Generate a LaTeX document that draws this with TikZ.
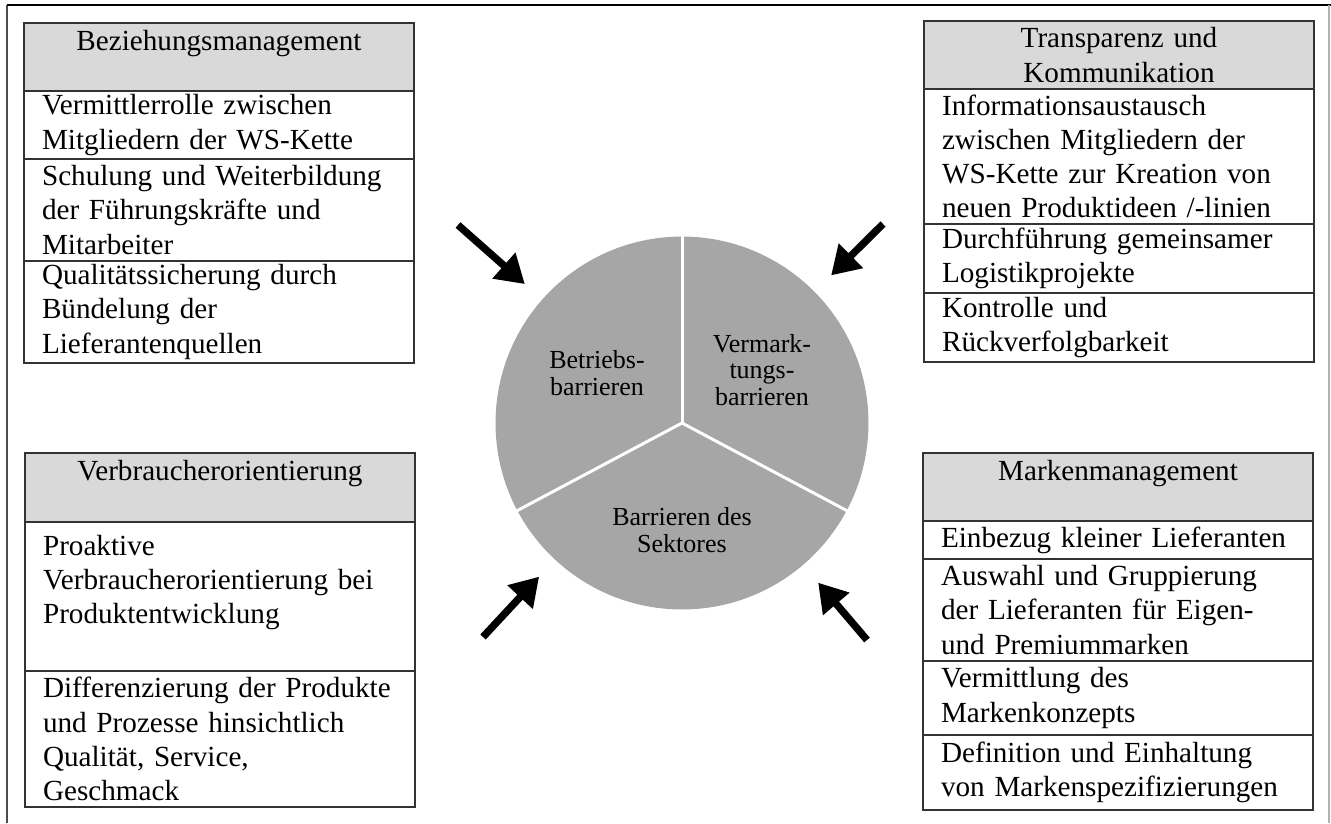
\documentclass[tikz,border=0pt]{standalone}
\usepackage{fontspec}
\setmainfont{Liberation Serif}
\usetikzlibrary{positioning,arrows.meta}

\newcommand{\boxfont}{\fontsize{16.6}{19.4}\selectfont\hyphenpenalty=10000\exhyphenpenalty=10000}
\newcommand{\kreisfont}{\fontsize{14.8}{15.2}\selectfont}

\begin{document}
\begin{tikzpicture}[x=0.02cm, y=-0.02cm,
        kopf/.style={draw=black!80, line width=0.9pt, fill=gray!30, outer sep=0pt,
                inner xsep=0.3cm, inner ysep=0pt, text width=7.2cm, align=center,
                font=\boxfont, anchor=north},
        zeile/.style={draw=black!80, line width=0.9pt, outer sep=0pt,
                inner xsep=0.36cm, inner ysep=0pt, text width=7.08cm, align=left,
                font=\boxfont},
        pfeil/.style={line width=4.2pt, -{Triangle[length=0.56cm,width=0.66cm]},
                shorten >=0.46cm}
    ]
        \useasboundingbox (0,0) rectangle (1331,823);

        % Rahmen
        \draw[black!70, line width=0.8pt] (7,823) -- (7,5);
        \draw[black, line width=1pt] (7,5) -- (1331,5);
        \draw[black!30, line width=0.6pt] (1329,5) -- (1329,823);

        % Kreis
        \node[circle, fill=gray!70, minimum size=7.46cm, inner sep=0pt] (kreis) at (682,423) {};
        \foreach \w in {90,208,332} {
                \draw[white, line width=1.7pt] (kreis.center) -- (kreis.\w);
            }
        \node[font=\kreisfont, align=center] (betrieb) at (597,373) {Betriebs-\\barrieren};
        \node[font=\kreisfont, align=center] (vermarkt) at (762,370) {Vermark-\\tungs-\\barrieren};
        \node[font=\kreisfont, align=center] (sektor) at (682,530) {Barrieren des\\Sektores};

        % Beziehungsmanagement
        \node[kopf, minimum height=1.36cm] (bezK) at (219,23) {Beziehungsmanagement\\\mbox{}};
        \node[zeile, minimum height=1.36cm, below=0pt of bezK] (bez1)
        {Vermittlerrolle zwischen\\Mitgliedern der WS-Kette};
        \node[zeile, minimum height=2.04cm, below=0pt of bez1] (bez2)
        {Schulung und Weiterbildung\\der Führungskräfte und\\Mitarbeiter};
        \node[zeile, minimum height=2.04cm, below=0pt of bez2] (bez3)
        {Qualitätssicherung durch\\Bündelung der\\Lieferantenquellen};

        % Transparenz und Kommunikation
        \node[kopf, minimum height=1.36cm] (traK) at (1119,21) {Transparenz und\\Kommunikation};
        \node[zeile, minimum height=2.70cm, below=0pt of traK] (tra1)
        {Informationsaustausch\\zwischen Mitgliedern der\\WS-Kette zur Kreation von\\neuen Produktideen /-linien};
        \node[zeile, minimum height=1.38cm, below=0pt of tra1] (tra2)
        {Durchführung gemeinsamer\\Logistikprojekte};
        \node[zeile, minimum height=1.38cm, below=0pt of tra2] (tra3)
        {Kontrolle und\\Rückverfolgbarkeit};

        % Verbraucherorientierung
        \node[kopf, minimum height=1.38cm] (verK) at (220,453) {Verbraucherorientierung\\\mbox{}};
        \node[zeile, minimum height=2.98cm, below=0pt of verK] (ver1)
        {Proaktive\\Verbraucherorientierung bei\\Produktentwicklung\\\mbox{}};
        \node[zeile, minimum height=2.72cm, below=0pt of ver1] (ver2)
        {Differenzierung der Produkte\\und Prozesse hinsichtlich\\Qualität, Service,\\Geschmack};

        % Markenmanagement
        \node[kopf, minimum height=1.36cm] (marK) at (1118,453) {Markenmanagement\\\mbox{}};
        \node[zeile, minimum height=0.76cm, below=0pt of marK] (mar1)
        {Einbezug kleiner Lieferanten};
        \node[zeile, minimum height=2.04cm, below=0pt of mar1] (mar2)
        {Auswahl und Gruppierung\\der Lieferanten für Eigen-\\und Premiummarken};
        \node[zeile, minimum height=1.48cm, below=0pt of mar2] (mar3)
        {Vermittlung des\\Markenkonzepts};
        \node[zeile, minimum height=1.50cm, below=0pt of mar3] (mar4)
        {Definition und Einhaltung\\von Markenspezifizierungen};

        % Pfeile
        \coordinate (pfA) at (458,225);
        \coordinate (pfB) at (883,224);
        \coordinate (pfC) at (483,637);
        \coordinate (pfD) at (867,640);
        \foreach \p in {pfA,pfB,pfC,pfD} {
                \draw[pfeil] (\p) -- (kreis);
            }

    \end{tikzpicture}
\end{document}
